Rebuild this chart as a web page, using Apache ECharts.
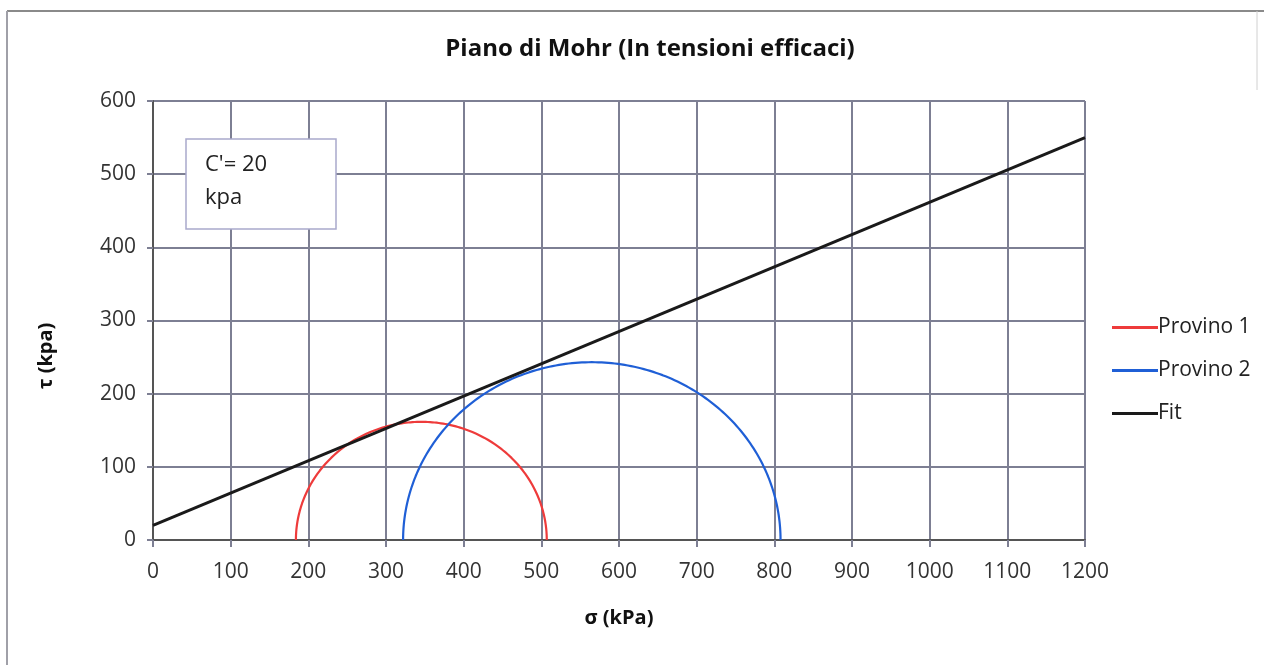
<!DOCTYPE html>
<html>
<head>
<meta charset="utf-8">
<script src="https://cdn.jsdelivr.net/npm/echarts@6/dist/echarts.min.js"></script>
<style>
  html, body { margin: 0; padding: 0; background: #fff; }
  #chart { width: 1264px; height: 665px; }
</style>
</head>
<body>
<div id="chart"></div>
<script>
// Triaxial test results: principal effective stresses (kPa) per specimen
const specimenNames = ['Provino 1', 'Provino 2'];
const sigma3 = [184, 322];
const sigma1 = [507, 808];
const specimenColors = ['#ee3b3b', '#1f5fd6'];

// Failure envelope (fit): tau at sigma = 0 and at sigma = 1200
const fitSigma = [0, 1200];
const fitTau = [20, 550];
const cohesion = 20;

// Axis ticks
const xTicks = [0, 100, 200, 300, 400, 500, 600, 700, 800, 900, 1000, 1100, 1200];
const yTicks = [0, 100, 200, 300, 400, 500, 600];

// Mohr semicircle through the two principal stresses
function mohrArc(s3, s1) {
  const c = (s1 + s3) / 2, r = (s1 - s3) / 2, pts = [];
  const n = 180;
  for (let i = 0; i <= n; i++) {
    const a = Math.PI - Math.PI * i / n;
    pts.push([c + r * Math.cos(a), r * Math.sin(a)]);
  }
  return pts;
}

const font = '"Open Sans", "Noto Sans", sans-serif';
const gridColor = '#7d7f93';

const series = specimenNames.map((name, i) => ({
  name: name,
  type: 'line',
  data: mohrArc(sigma3[i], sigma1[i]),
  showSymbol: false,
  symbol: 'none',
  lineStyle: { color: specimenColors[i], width: 2.2 },
  itemStyle: { color: specimenColors[i] },
  z: 3
}));
series.push({
  name: 'Fit',
  type: 'line',
  data: fitSigma.map((s, i) => [s, fitTau[i]]),
  showSymbol: false,
  symbol: 'none',
  lineStyle: { color: '#1a1a1a', width: 3 },
  itemStyle: { color: '#1a1a1a' },
  z: 4
});

const chart = echarts.init(document.getElementById('chart'));
chart.setOption({
  backgroundColor: '#ffffff',
  animation: false,
  title: {
    text: 'Piano di Mohr (In tensioni efficaci)',
    left: 645,
    top: 32,
    textAlign: 'center',
    textStyle: { fontFamily: font, fontSize: 24, fontWeight: 'bold', color: '#111' }
  },
  grid: { left: 153, right: 179, top: 101, bottom: 125, containLabel: false },
  legend: {
    orient: 'vertical',
    left: 1107,
    top: 312,
    itemWidth: 46,
    itemHeight: 3,
    itemGap: 22,
    icon: 'rect',
    textStyle: { fontFamily: font, fontSize: 21, color: '#222', padding: [0, 0, 0, -5] },
    data: ['Provino 1', 'Provino 2', 'Fit']
  },
  xAxis: {
    type: 'value',
    min: xTicks[0],
    max: xTicks[xTicks.length - 1],
    interval: 100,
    name: 'σ (kPa)',
    nameLocation: 'middle',
    nameGap: 68,
    nameTextStyle: { fontFamily: font, fontSize: 20, fontWeight: 'bold', color: '#111' },
    axisLine: { show: true, lineStyle: { color: '#555', width: 2 } },
    axisTick: { show: true, length: 7, lineStyle: { color: gridColor, width: 2 } },
    axisLabel: { fontFamily: font, fontSize: 21, color: '#333', margin: 22, formatter: v => String(v) },
    splitLine: { show: true, lineStyle: { color: gridColor, width: 2 } }
  },
  yAxis: {
    type: 'value',
    min: yTicks[0],
    max: yTicks[yTicks.length - 1],
    interval: 100,
    axisLine: { show: true, lineStyle: { color: '#555', width: 2 } },
    axisTick: { show: true, length: 6, lineStyle: { color: gridColor, width: 2 } },
    axisLabel: { fontFamily: font, fontSize: 21, color: '#333', margin: 17, formatter: v => String(v) },
    splitLine: { show: true, lineStyle: { color: gridColor, width: 2 } }
  },
  graphic: [
    // chart frame
    { type: 'line', shape: { x1: 7, y1: 11, x2: 1264, y2: 11 }, style: { stroke: '#8a8a8a', lineWidth: 2 }, silent: true },
    { type: 'line', shape: { x1: 7, y1: 11, x2: 7, y2: 665 }, style: { stroke: '#a0a0a8', lineWidth: 2 }, silent: true },
    { type: 'line', shape: { x1: 1257, y1: 11, x2: 1257, y2: 90 }, style: { stroke: '#d0d0d0', lineWidth: 1 }, silent: true },
    // y axis title
    {
      type: 'text',
      x: 46, y: 356,
      rotation: Math.PI / 2,
      style: {
        text: 'τ (kpa)',
        font: 'bold 20px ' + font,
        fill: '#111',
        align: 'center', verticalAlign: 'middle'
      },
      z: 10
    },
    // cohesion annotation box
    {
      type: 'rect',
      shape: { x: 186, y: 139, width: 150, height: 90 },
      style: { fill: '#ffffff', stroke: '#a9a9cc', lineWidth: 1.5 },
      z: 100, zlevel: 1
    },
    {
      type: 'text',
      x: 205, y: 165,
      style: { text: "C'= " + cohesion, font: '22px ' + font, fill: '#222', verticalAlign: 'middle' },
      z: 101, zlevel: 1
    },
    {
      type: 'text',
      x: 205, y: 198,
      style: { text: 'kpa', font: '22px ' + font, fill: '#222', verticalAlign: 'middle' },
      z: 101, zlevel: 1
    }
  ],
  series: series
});
</script>
</body>
</html>
